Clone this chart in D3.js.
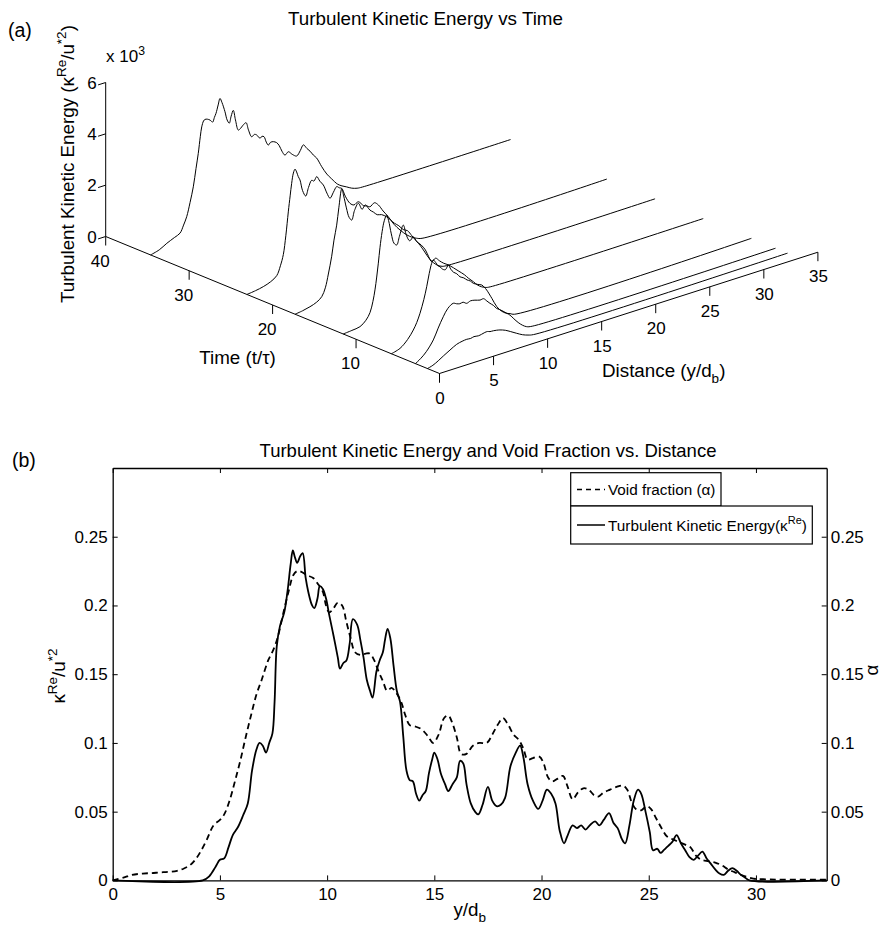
<!DOCTYPE html>
<html>
<head>
<meta charset="utf-8">
<script src="https://cdnjs.cloudflare.com/ajax/libs/d3/7.8.5/d3.min.js"></script>
<style>
  body { margin: 0; background: #fff; }
  text { font-family: "Liberation Sans", Arial, sans-serif; fill: #000; }
</style>
</head>
<body>
<svg id="fig" width="884" height="926"></svg>
<script>
// ---------- panel (a): waterfall of TKE profiles, [distance y/db, TKE] ----------
const curveTimes = [34.62, 23.08, 17.31, 11.54, 5.77, 2.88, 1.44];
const tkeT346 = [[0,0],[0.8,90],[1.5,250],[2.2,380],[2.72,480],[3.05,750],[3.34,1040],[3.65,1550],[3.95,2120],[4.2,2800],[4.41,3360],[4.6,4000],[4.73,4350],[4.9,4560],[5.03,4600],[5.25,4580],[5.5,4510],[5.74,4400],[5.9,4560],[6.05,4700],[6.25,5000],[6.42,5230],[6.6,5050],[6.88,4650],[7.08,4300],[7.28,4150],[7.45,4400],[7.65,4600],[7.85,4200],[8.11,3770],[8.3,3800],[8.55,3900],[8.83,3960],[9.05,3650],[9.35,3340],[9.6,3400],[9.81,3350],[10.12,3180],[10.3,3230],[10.49,3190],[10.7,2950],[10.89,2810],[11.1,2890],[11.35,2880],[11.66,2800],[11.9,2650],[12.15,2400],[12.43,2210],[12.74,2300],[13.1,2150],[13.51,2030],[13.85,2200],[14.13,2380],[14.45,2200],[14.75,2050],[15.05,1860],[15.36,1700],[15.83,1300],[16.3,950],[16.75,700],[17.3,420],[17.7,300],[18.14,200],[18.6,90],[19.1,20],[19.6,0],[33.3,0]];
const tkeT231 = [[0,0],[0.8,40],[1.52,100],[2.2,200],[2.76,360],[3.1,700],[3.37,1100],[3.6,1800],[3.83,2700],[4.0,3300],[4.14,3770],[4.3,4150],[4.45,4280],[4.6,4150],[4.75,3950],[4.91,3800],[5.15,3350],[5.44,3100],[5.7,3400],[5.99,3640],[6.2,3580],[6.46,3720],[6.75,3500],[7.07,3310],[7.4,2950],[7.69,2710],[8.0,2900],[8.31,3080],[8.55,3000],[8.77,2950],[9.1,2600],[9.54,2260],[9.9,2150],[10.31,2220],[10.8,2000],[11.1,1950],[11.39,1880],[11.8,1980],[12.16,1845],[12.6,1550],[13.08,1260],[13.6,900],[14.16,600],[14.8,320],[15.3,160],[15.7,70],[16.2,0],[33.3,0]];
const tkeT173 = [[0,0],[0.7,40],[1.38,105],[2.0,200],[2.47,350],[2.8,650],[3.08,1150],[3.39,1800],[3.6,2400],[3.85,2950],[4.05,3600],[4.32,4300],[4.5,4000],[4.75,3500],[5.0,3100],[5.24,2960],[5.5,3300],[5.86,3530],[6.2,3250],[6.5,3380],[6.93,3120],[7.25,3000],[7.6,2850],[8.0,2800],[8.48,2650],[8.8,2500],[9.2,2300],[9.6,2150],[10.0,1950],[10.4,1850],[10.8,1600],[11.2,1350],[11.6,1100],[12.0,800],[12.4,500],[12.8,280],[13.2,120],[13.6,30],[14.0,0],[33.3,0]];
const tkeT115 = [[0,0],[0.8,30],[1.55,75],[2.1,250],[2.48,500],[2.75,900],[2.94,1320],[3.1,1800],[3.25,2320],[3.4,2900],[3.6,3500],[3.8,3900],[4.02,4090],[4.2,3850],[4.45,3300],[4.7,2900],[4.95,2800],[5.2,3100],[5.56,3490],[5.85,3050],[6.15,2800],[6.5,2900],[6.8,2680],[7.2,2500],[7.6,2250],[7.9,1950],[8.19,1710],[8.55,1800],[8.9,1650],[9.3,1500],[9.72,1380],[10.2,1200],[10.7,1000],[11.2,800],[11.6,600],[12.04,410],[12.45,220],[12.8,110],[13.2,30],[13.6,0],[33.3,0]];
const tkeT058 = [[0,0],[0.8,100],[1.5,350],[2.03,650],[2.35,900],[2.65,1220],[3.0,1700],[3.27,2170],[3.5,2650],[3.73,3020],[3.88,3130],[4.1,3000],[4.3,2850],[4.5,2780],[4.75,2650],[5.0,2600],[5.27,2740],[5.5,2550],[5.75,2400],[6.05,2300],[6.35,2140],[6.7,2050],[7.0,1930],[7.3,1850],[7.58,1720],[8.0,1620],[8.36,1550],[8.6,1430],[8.82,1290],[9.3,900],[9.75,520],[10.2,280],[10.6,150],[10.98,80],[11.4,0],[33.3,0]];
const tkeT029 = [[0,0],[0.5,140],[1.0,330],[1.65,700],[2.1,1100],[2.57,1480],[3.0,1750],[3.5,1880],[3.8,1820],[4.1,1780],[4.4,1800],[4.74,1710],[5.1,1760],[5.5,1730],[5.97,1670],[6.3,1680],[6.6,1550],[6.89,1420],[7.2,1300],[7.5,1140],[7.8,1050],[8.1,950],[8.45,820],[8.74,710],[9.1,520],[9.5,320],[9.9,160],[10.29,50],[10.8,0],[33.3,0]];
const tkeT014 = [[0,0],[0.5,60],[1.0,170],[1.5,300],[2.08,440],[2.7,580],[3.2,630],[3.63,650],[4.0,635],[4.3,665],[4.7,640],[5.0,660],[5.3,690],[5.55,695],[5.78,660],[6.1,650],[6.4,630],[6.7,600],[7.2,520],[7.7,400],[8.25,260],[8.8,130],[9.3,50],[9.8,0],[33.3,0]];
const waterCurves = [tkeT346, tkeT231, tkeT173, tkeT115, tkeT058, tkeT029, tkeT014];
const timeTicks = [10, 20, 30, 40];
const distTicks = [0, 5, 10, 15, 20, 25, 30, 35];
const tkeTicks = [0, 2000, 4000, 6000];

// ---------- panel (b): profiles vs distance, [y/db, value] ----------
const tkeProfile = [[0,0],[4.2,0],[4.5,0.003],[4.8,0.01],[5.0,0.015],[5.2,0.016],[5.4,0.024],[5.6,0.033],[5.85,0.039],[6.1,0.048],[6.3,0.056],[6.5,0.08],[6.7,0.095],[6.85,0.1],[7.0,0.098],[7.15,0.093],[7.3,0.1],[7.45,0.107],[7.55,0.13],[7.65,0.17],[7.8,0.185],[8.0,0.195],[8.15,0.21],[8.3,0.23],[8.4,0.24],[8.5,0.235],[8.6,0.231],[8.75,0.236],[8.86,0.238],[9.0,0.22],[9.12,0.21],[9.3,0.2],[9.4,0.198],[9.55,0.205],[9.66,0.214],[9.8,0.212],[9.95,0.205],[10.1,0.193],[10.3,0.178],[10.5,0.162],[10.6,0.154],[10.75,0.158],[10.9,0.16],[11.05,0.172],[11.2,0.19],[11.4,0.186],[11.55,0.175],[11.7,0.162],[11.85,0.146],[12.0,0.138],[12.12,0.133],[12.3,0.152],[12.45,0.16],[12.6,0.166],[12.7,0.175],[12.82,0.183],[12.95,0.176],[13.1,0.156],[13.25,0.138],[13.4,0.13],[13.55,0.105],[13.7,0.08],[13.85,0.073],[14.0,0.072],[14.15,0.063],[14.3,0.058],[14.45,0.062],[14.6,0.065],[14.75,0.078],[14.9,0.088],[15.0,0.093],[15.15,0.088],[15.3,0.078],[15.5,0.07],[15.65,0.065],[15.85,0.07],[16.05,0.075],[16.2,0.087],[16.35,0.085],[16.5,0.07],[16.7,0.056],[16.9,0.05],[17.05,0.048],[17.25,0.055],[17.5,0.068],[17.7,0.058],[17.9,0.054],[18.1,0.055],[18.3,0.06],[18.55,0.083],[18.8,0.093],[19.0,0.098],[19.15,0.09],[19.35,0.07],[19.6,0.058],[19.85,0.052],[20.05,0.058],[20.25,0.066],[20.45,0.063],[20.65,0.056],[20.85,0.036],[21.05,0.027],[21.2,0.032],[21.45,0.04],[21.65,0.038],[21.85,0.04],[22.05,0.037],[22.25,0.04],[22.5,0.043],[22.7,0.04],[22.9,0.044],[23.15,0.049],[23.35,0.042],[23.55,0.038],[23.75,0.03],[23.9,0.027],[24.1,0.04],[24.3,0.058],[24.5,0.066],[24.65,0.063],[24.85,0.05],[25.05,0.035],[25.2,0.022],[25.4,0.023],[25.55,0.02],[25.7,0.022],[25.9,0.025],[26.1,0.028],[26.3,0.033],[26.5,0.027],[26.7,0.022],[26.9,0.017],[27.1,0.015],[27.3,0.018],[27.5,0.021],[27.7,0.016],[27.9,0.012],[28.1,0.008],[28.3,0.005],[28.5,0.004],[28.7,0.007],[28.9,0.009],[29.1,0.007],[29.3,0.004],[29.5,0.002],[29.7,0],[33.3,0]];
const voidProfile = [[0,0],[0.5,0.002],[0.9,0.004],[1.4,0.005],[1.8,0.0053],[2.2,0.0058],[2.6,0.0062],[3.0,0.007],[3.3,0.0085],[3.6,0.011],[3.85,0.015],[4.1,0.021],[4.4,0.03],[4.7,0.04],[5.0,0.044],[5.2,0.048],[5.45,0.058],[5.7,0.072],[5.95,0.087],[6.2,0.104],[6.45,0.12],[6.7,0.135],[6.95,0.146],[7.25,0.16],[7.5,0.168],[7.7,0.177],[7.95,0.194],[8.2,0.21],[8.42,0.222],[8.6,0.225],[8.8,0.2245],[9.05,0.222],[9.35,0.22],[9.6,0.215],[9.8,0.21],[9.95,0.2],[10.1,0.195],[10.3,0.198],[10.5,0.202],[10.7,0.2],[10.9,0.188],[11.1,0.176],[11.3,0.166],[11.55,0.164],[11.8,0.165],[12.0,0.165],[12.2,0.16],[12.4,0.152],[12.6,0.145],[12.8,0.138],[13.0,0.14],[13.2,0.137],[13.45,0.13],[13.65,0.12],[13.85,0.113],[14.1,0.112],[14.4,0.11],[14.7,0.105],[14.95,0.1],[15.2,0.106],[15.45,0.118],[15.65,0.12],[15.85,0.114],[16.05,0.104],[16.25,0.092],[16.5,0.092],[16.8,0.098],[17.1,0.1],[17.45,0.1],[17.7,0.106],[17.95,0.113],[18.2,0.118],[18.45,0.113],[18.7,0.106],[18.95,0.102],[19.15,0.096],[19.35,0.088],[19.6,0.089],[19.9,0.09],[20.1,0.085],[20.3,0.075],[20.5,0.072],[20.75,0.074],[21.0,0.076],[21.2,0.069],[21.45,0.059],[21.7,0.064],[21.95,0.067],[22.2,0.066],[22.45,0.062],[22.65,0.061],[22.9,0.064],[23.2,0.066],[23.5,0.068],[23.8,0.069],[24.0,0.066],[24.2,0.057],[24.4,0.052],[24.65,0.051],[24.9,0.054],[25.1,0.052],[25.35,0.045],[25.6,0.038],[25.85,0.032],[26.1,0.03],[26.4,0.028],[26.7,0.026],[26.95,0.024],[27.2,0.018],[27.45,0.015],[27.8,0.014],[28.1,0.013],[28.4,0.011],[28.7,0.008],[29.0,0.006],[29.3,0.004],[29.7,0.002],[30.0,0.001],[30.5,0.0008],[31,0.0006],[32,0.0005],[33.3,0.0005]];
const xTicksB = [0, 5, 10, 15, 20, 25, 30];
const yTicksB = [0, 0.05, 0.1, 0.15, 0.2, 0.25];

const svg = d3.select("#fig");
const TICK = 17, LAB = 18.8, LEG = 15.3;

// text with super/subscript pieces
function rich(sel, parts, size) {
  let shift = 0;
  parts.forEach(p => {
    const lvl = p.sup ? -0.4 * size : p.sub ? 0.3 * size : 0;
    sel.append("tspan")
      .attr("dy", lvl - shift)
      .style("font-size", (p.sup || p.sub ? size * 0.72 : size) + "px")
      .text(p.t);
    shift = lvl;
  });
  return sel;
}

// ================= panel (a) =================
const ga = svg.append("g");
const O = [439.5, 373.5];
const tX = d3.scaleLinear().domain([0, 40]).range([0, -333.8]);
const tY = d3.scaleLinear().domain([0, 40]).range([0, -137]);
const dX = d3.scaleLinear().domain([0, 35]).range([0, 378.4]);
const dY = d3.scaleLinear().domain([0, 35]).range([0, -121.3]);
const zY = d3.scaleLinear().domain([0, 6000]).range([0, -154]);
const proj = (t, d, z) => [O[0] + tX(t) + dX(d), O[1] + tY(t) + dY(d) + zY(z)];

ga.append("text").attr("x", 8).attr("y", 37).style("font-size", "19.5px").text("(a)");
ga.append("text").attr("x", 425.5).attr("y", 25).attr("text-anchor", "middle")
  .style("font-size", LAB + "px").text("Turbulent Kinetic Energy vs Time");

// curves, far to near
waterCurves.forEach((pts, i) => {
  const t = curveTimes[i];
  const line = d3.line()
    .x(p => proj(t, p[0], p[1])[0])
    .y(p => proj(t, p[0], p[1])[1])
    .curve(d3.curveCatmullRom.alpha(0.5));
  ga.append("path").attr("d", line(pts))
    .attr("fill", "none").attr("stroke", "#000").attr("stroke-width", 1);
});

// axes
const axLine = (a, b) => ga.append("line")
  .attr("x1", a[0]).attr("y1", a[1]).attr("x2", b[0]).attr("y2", b[1])
  .attr("stroke", "#000").attr("stroke-width", 1);
axLine(proj(0, 0, 0), proj(40, 0, 0));
axLine(proj(0, 0, 0), proj(0, 35, 0));
axLine(proj(40, 0, 0), proj(40, 0, 6000));

timeTicks.concat([0]).forEach(t => { const p = proj(t, 0, 0); axLine(p, [p[0], p[1] + 9]); });
distTicks.forEach(d => { const p = proj(0, d, 0); axLine(p, [p[0], p[1] + 9]); });
tkeTicks.forEach(z => { const p = proj(40, 0, z); axLine(p, [p[0] - 7.6, p[1] + 2.4]); });

ga.selectAll("text.tt").data(timeTicks).join("text").attr("class", "tt")
  .attr("x", t => proj(t, 0, 0)[0] - 5.5).attr("y", t => proj(t, 0, 0)[1] + 30)
  .attr("text-anchor", "middle").style("font-size", TICK + "px").text(t => t);
ga.selectAll("text.dt").data(distTicks).join("text").attr("class", "dt")
  .attr("x", d => proj(0, d, 0)[0] + 0.5).attr("y", d => proj(0, d, 0)[1] + 30)
  .attr("text-anchor", "middle").style("font-size", TICK + "px").text(d => d);
ga.selectAll("text.zt").data(tkeTicks).join("text").attr("class", "zt")
  .attr("x", z => proj(40, 0, z)[0] - 9).attr("y", z => proj(40, 0, z)[1] + 6)
  .attr("text-anchor", "end").style("font-size", TICK + "px").text(z => z / 1000);

rich(ga.append("text").attr("x", 106).attr("y", 62).style("font-size", TICK + "px"),
  [{ t: "x 10" }, { t: "3", sup: true }], TICK);

ga.append("text").attr("x", 237.5).attr("y", 364).attr("text-anchor", "middle")
  .style("font-size", LAB + "px").text("Time (t/τ)");
rich(ga.append("text").attr("x", 602).attr("y", 377).style("font-size", LAB + "px"),
  [{ t: "Distance (y/d" }, { t: "b", sub: true }, { t: ")" }], LAB);
rich(ga.append("text").attr("transform", "translate(74,164) rotate(-90)")
  .attr("text-anchor", "middle").style("font-size", LAB + "px"),
  [{ t: "Turbulent Kinetic Energy (κ" }, { t: "Re", sup: true }, { t: "/u" }, { t: "*2", sup: true }, { t: ")" }], LAB);

// ================= panel (b) =================
const gb = svg.append("g");
const xB = d3.scaleLinear().domain([0, 33.3]).range([112.7, 826.7]);
const yL = d3.scaleLinear().domain([0, 0.3]).range([880.4, 468]);
const yR = d3.scaleLinear().domain([0, 0.3]).range([880.4, 468]);
const fmt = d => String(+d.toFixed(2));

gb.append("text").attr("x", 12).attr("y", 467).style("font-size", "19.5px").text("(b)");
gb.append("text").attr("x", 488).attr("y", 457).attr("text-anchor", "middle")
  .style("font-size", "18.5px").text("Turbulent Kinetic Energy and Void Fraction vs. Distance");

const lineB = d3.line().x(p => xB(p[0])).y(p => yL(p[1])).curve(d3.curveCatmullRom.alpha(0.5));
const lineR = d3.line().x(p => xB(p[0])).y(p => yR(p[1])).curve(d3.curveCatmullRom.alpha(0.5));
gb.append("path").attr("d", lineR(voidProfile)).attr("fill", "none")
  .attr("stroke", "#000").attr("stroke-width", 1.8).attr("stroke-dasharray", "6,4");
gb.append("path").attr("d", lineB(tkeProfile)).attr("fill", "none")
  .attr("stroke", "#000").attr("stroke-width", 1.8);

const styleAxis = g => {
  g.select(".domain").attr("stroke-width", 1.3);
  g.selectAll(".tick line").attr("stroke-width", 1);
  g.selectAll(".tick text").style("font-size", TICK + "px")
    .style("font-family", '"Liberation Sans", Arial, sans-serif');
};
gb.append("g").attr("transform", "translate(0,880.4)")
  .call(d3.axisBottom(xB).tickValues(xTicksB).tickSizeInner(-5).tickSizeOuter(0).tickPadding(7.5))
  .call(styleAxis);
gb.append("g").attr("transform", "translate(0,468)")
  .call(d3.axisTop(xB).tickValues(xTicksB).tickSizeInner(-5).tickSizeOuter(0).tickFormat(() => ""))
  .call(styleAxis);
gb.append("g").attr("transform", "translate(112.7,0)")
  .call(d3.axisLeft(yL).tickValues(yTicksB).tickSizeInner(-5).tickSizeOuter(0).tickPadding(5).tickFormat(fmt))
  .call(styleAxis);
gb.append("g").attr("transform", "translate(826.7,0)")
  .call(d3.axisRight(yR).tickValues(yTicksB).tickSizeInner(-5).tickSizeOuter(0).tickPadding(4).tickFormat(fmt))
  .call(styleAxis);

rich(gb.append("text").attr("x", 469.7).attr("y", 916).attr("text-anchor", "middle")
  .style("font-size", LAB + "px"), [{ t: "y/d" }, { t: "b", sub: true }], LAB);
rich(gb.append("text").attr("transform", "translate(65,676) rotate(-90)")
  .attr("text-anchor", "middle").style("font-size", LAB + "px"),
  [{ t: "κ" }, { t: "Re", sup: true }, { t: "/u" }, { t: "*2", sup: true }], LAB);
gb.append("text").attr("transform", "translate(878,670) rotate(-90)")
  .attr("text-anchor", "middle").style("font-size", LAB + "px").text("α");

// legends (two boxes, one per axis)
const leg = gb.append("g");
leg.append("rect").attr("x", 570.7).attr("y", 472.7).attr("width", 150.3).attr("height", 33.3)
  .attr("fill", "#fff").attr("stroke", "#000").attr("stroke-width", 1.2);
leg.append("rect").attr("x", 570.7).attr("y", 506).attr("width", 241.6).attr("height", 38)
  .attr("fill", "#fff").attr("stroke", "#000").attr("stroke-width", 1.2);
leg.append("line").attr("x1", 577).attr("x2", 605).attr("y1", 489.5).attr("y2", 489.5)
  .attr("stroke", "#000").attr("stroke-width", 1.5).attr("stroke-dasharray", "5,4");
leg.append("line").attr("x1", 577).attr("x2", 605).attr("y1", 525).attr("y2", 525)
  .attr("stroke", "#000").attr("stroke-width", 1.5);
leg.append("text").attr("x", 608).attr("y", 495).style("font-size", LEG + "px").text("Void fraction (α)");
rich(leg.append("text").attr("x", 608).attr("y", 530.5).style("font-size", LEG + "px"),
  [{ t: "Turbulent Kinetic Energy(κ" }, { t: "Re", sup: true }, { t: ")" }], LEG);
</script>
</body>
</html>
